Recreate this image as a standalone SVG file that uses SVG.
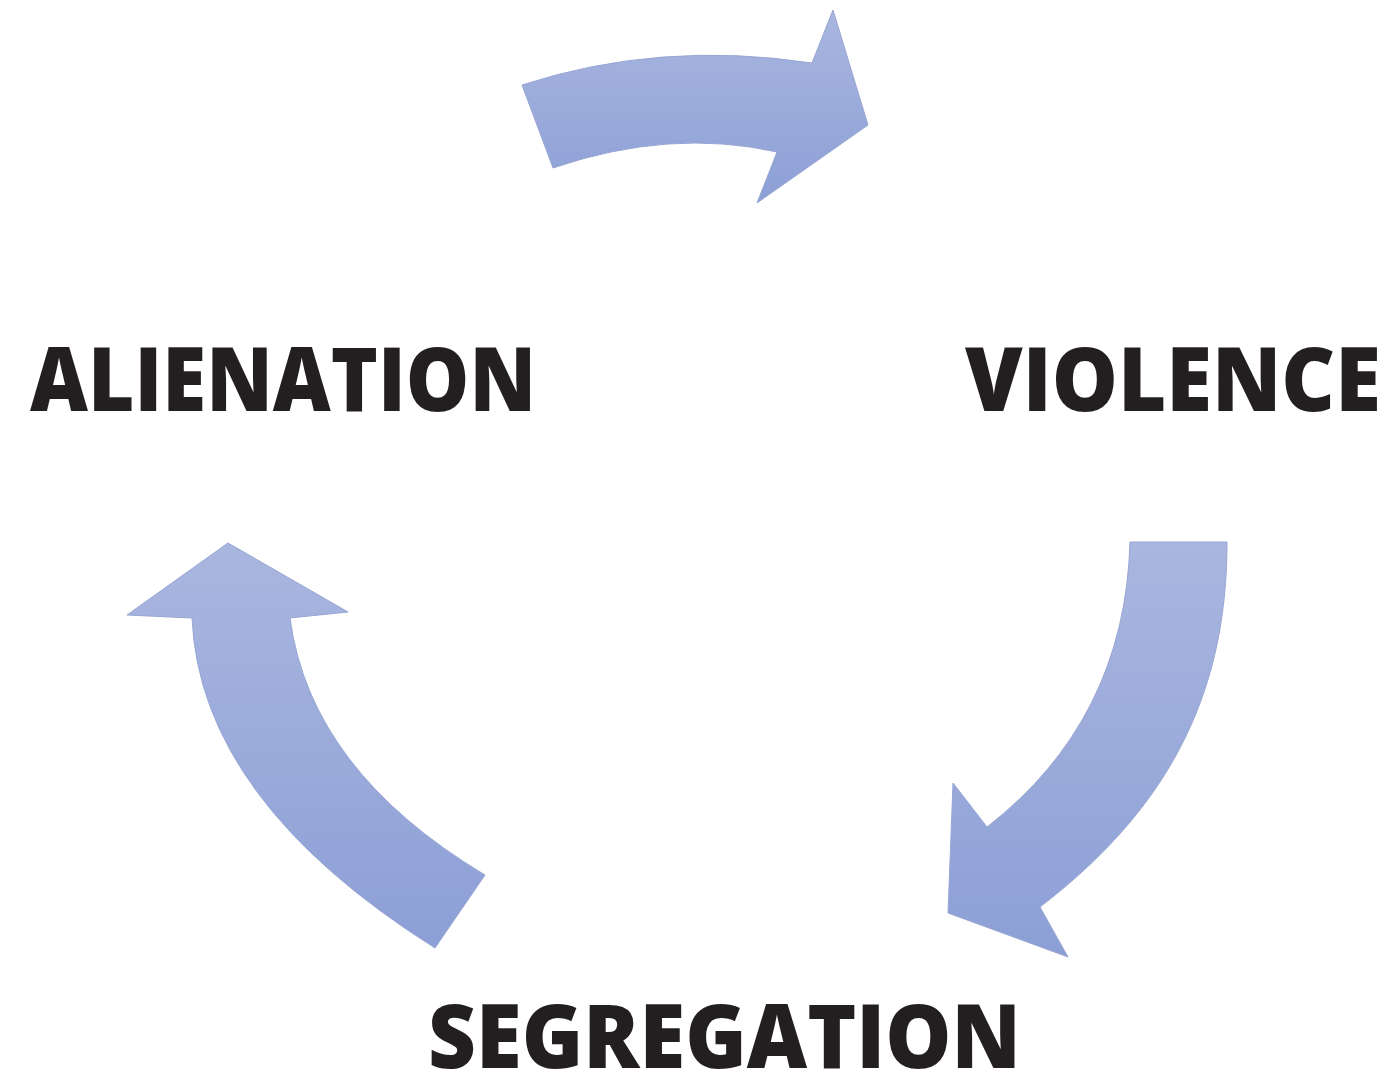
<svg xmlns="http://www.w3.org/2000/svg" width="1398" height="1082" viewBox="0 0 1398 1082">
  <defs>
    <linearGradient id="g" x1="0" y1="0" x2="0" y2="1">
      <stop offset="0" stop-color="#a9b6df"/>
      <stop offset="1" stop-color="#8c9fd6"/>
    </linearGradient>
    <filter id="soft" x="-5%" y="-5%" width="110%" height="110%">
      <feGaussianBlur stdDeviation="0.7"/>
    </filter>
  </defs>
  <style>
    .arrow { fill: url(#g); stroke: #97a5d2; stroke-width: 1; filter: url(#soft); }
    .label { font-family: "Open Sans", "Liberation Sans", sans-serif; font-weight: 800; font-size: 89px; fill: #231f20; }
  </style>
  <rect width="1398" height="1082" fill="#ffffff"/>
  <g id="connectors">
    <path id="arrow-top" class="arrow" d="M 522 85 Q 660 40 812 63 L 833 10 L 868 125 L 757 203 L 777 152 Q 670 128 553 168 Z"/>
    <path id="arrow-right" class="arrow" d="M 1130 542 L 1227 542 C 1227 680 1180 800 1040 907 L 1068 957 L 948 913 L 953 783 L 987 827 Q 1125 720 1130 542 Z"/>
    <path id="arrow-left" class="arrow" d="M 228 543 L 348 612 L 290 618 Q 310 770 485 875 L 435 948 Q 200 800 192 618 L 127 615 Z"/>
  </g>
  <g id="node-alienation">
    <text class="label" x="30" y="411" textLength="506" lengthAdjust="spacingAndGlyphs">ALIENATION</text>
  </g>
  <g id="node-violence">
    <text class="label" x="965" y="411" textLength="416" lengthAdjust="spacingAndGlyphs">VIOLENCE</text>
  </g>
  <g id="node-segregation">
    <text class="label" x="428" y="1068" textLength="593" lengthAdjust="spacingAndGlyphs">SEGREGATION</text>
  </g>
</svg>
